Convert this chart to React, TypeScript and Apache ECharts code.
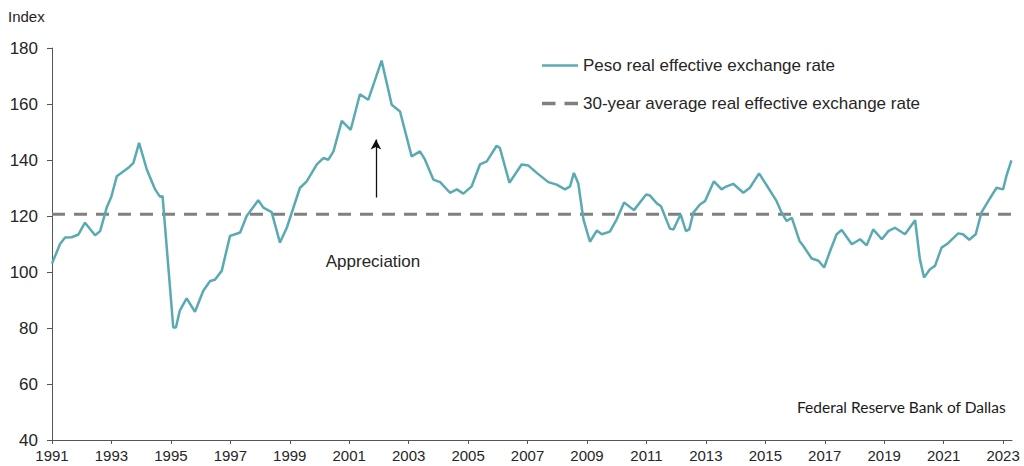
import React, { useEffect, useRef } from "react";
import * as echarts from "echarts";

const years: number[] = [
  1991.0, 1991.27, 1991.44, 1991.66, 1991.89, 1992.11, 1992.45, 1992.62, 1992.84, 1993.0,
  1993.18, 1993.57, 1993.74, 1993.93, 1994.19, 1994.47, 1994.63, 1994.72, 1995.08, 1995.17,
  1995.3, 1995.53, 1995.81, 1996.09, 1996.32, 1996.48, 1996.71, 1996.99, 1997.16, 1997.33,
  1997.55, 1997.94, 1998.11, 1998.39, 1998.67, 1998.9, 1999.34, 1999.57, 1999.91, 2000.13,
  2000.3, 2000.47, 2000.75, 2001.05, 2001.36, 2001.64, 2002.09, 2002.43, 2002.71, 2003.1,
  2003.38, 2003.55, 2003.83, 2004.06, 2004.39, 2004.62, 2004.84, 2005.12, 2005.4, 2005.63,
  2005.96, 2006.07, 2006.39, 2006.8, 2007.03, 2007.31, 2007.7, 2007.98, 2008.26, 2008.43,
  2008.56, 2008.71, 2008.88, 2009.1, 2009.33, 2009.5, 2009.77, 2010.0, 2010.25, 2010.58,
  2010.99, 2011.12, 2011.35, 2011.49, 2011.79, 2011.91, 2012.15, 2012.33, 2012.44, 2012.58,
  2012.8, 2012.97, 2013.27, 2013.53, 2013.64, 2013.92, 2014.26, 2014.48, 2014.79, 2015.05,
  2015.38, 2015.55, 2015.72, 2015.89, 2016.15, 2016.28, 2016.56, 2016.79, 2016.98, 2017.18,
  2017.4, 2017.57, 2017.91, 2018.19, 2018.41, 2018.63, 2018.92, 2019.14, 2019.36, 2019.7,
  2020.04, 2020.2, 2020.34, 2020.54, 2020.71, 2020.93, 2021.15, 2021.49, 2021.65, 2021.86,
  2022.08, 2022.27, 2022.5, 2022.78, 2023.0, 2023.11, 2023.28,
];

const pesoReer: number[] = [
  103, 110, 112.3, 112.4, 113.4, 117.6, 113.1, 114.6, 123, 127,
  134.2, 137.2, 139, 146.1, 136.6, 129.5, 126.9, 127.1, 80.2, 80.2,
  86.2, 90.6, 85.8, 93.3, 96.8, 97.2, 100.4, 112.9, 113.5, 114.1,
  120, 125.6, 123, 121.4, 110.5, 115.8, 130, 132.4, 138.4, 140.7,
  140.1, 143.1, 154, 150.8, 163.5, 161.5, 175.5, 159.7, 157.3, 141.3,
  143.1, 140.1, 133, 132.1, 128.3, 129.5, 128, 130.6, 138.4, 139.5,
  145.1, 144.3, 131.9, 138.4, 138, 135.4, 132.1, 131.2, 129.5, 130.6,
  135.4, 131.5, 118.8, 110.8, 114.8, 113.5, 114.4, 118.8, 124.8, 122.1,
  127.7, 127.3, 124.5, 123.5, 115.5, 115.2, 120.6, 114.6, 115.2, 121.2,
  124.1, 125.3, 132.4, 129.5, 130.3, 131.5, 128.3, 130.1, 135.2, 130.9,
  125.3, 121.2, 118.2, 119.4, 111.1, 109.3, 104.8, 104, 101.6, 107.5,
  113.5, 115, 109.9, 111.7, 109.5, 115.2, 111.7, 114.6, 115.8, 113.5,
  118.5, 104.6, 98, 101, 102.2, 108.7, 110.3, 113.8, 113.5, 111.5,
  113.5, 121.2, 125.3, 130.1, 129.5, 134.2, 139.9,
];

const averageYears: number[] = [1991, 2023.3];
const averageValues: number[] = [120.6, 120.6];

const xTickLabels: number[] = [
  1991, 1993, 1995, 1997, 1999, 2001, 2003, 2005, 2007, 2009, 2011, 2013, 2015, 2017, 2019, 2021, 2023,
];

const arrowYear = 2001.9;
const arrowFrom = 126.6;
const arrowTo = 147.3;

const seriesNames = [
  "Peso real effective exchange rate",
  "30-year average real effective exchange rate",
];

export default function App() {
  const ref = useRef<HTMLDivElement>(null);

  useEffect(() => {
    if (!ref.current) return;
    const chart = echarts.init(ref.current, null, { renderer: "svg" });
    const font = "'Liberation Sans', Arial, sans-serif";
    chart.setOption({
      animation: false,
      backgroundColor: "#ffffff",
      grid: { left: 52, right: 12, top: 48, bottom: 26, containLabel: false },
      legend: {
        orient: "vertical",
        left: 537,
        top: 52,
        itemWidth: 36,
        itemHeight: 14,
        itemGap: 21,
        data: [
          { name: seriesNames[0], icon: "path://M0,0h36v2.5h-36z", itemStyle: { color: "#5aaab2" } },
          {
            name: seriesNames[1],
            icon: "path://M0,0h12v3h-12z M20,0h12v3h-12z",
            itemStyle: { color: "#808080" },
          },
        ],
        textStyle: { fontFamily: font, fontSize: 17, color: "#262626" },
      },
      xAxis: {
        type: "value",
        min: 1991,
        max: 2023.3,
        axisLine: { show: true, onZero: false, lineStyle: { color: "#555", width: 1 } },
        axisTick: {
          show: true,
          length: 4,
          customValues: xTickLabels,
          lineStyle: { color: "#555" },
        },
        axisLabel: {
          customValues: xTickLabels,
          fontFamily: font,
          fontSize: 15,
          color: "#262626",
          margin: 8,
          formatter: (v: number) => String(v),
        },
        splitLine: { show: false },
      },
      yAxis: {
        type: "value",
        min: 40,
        max: 180,
        interval: 20,
        axisLine: { show: true, lineStyle: { color: "#555", width: 1 } },
        axisTick: { show: true, length: 5, lineStyle: { color: "#555" } },
        axisLabel: { fontFamily: font, fontSize: 17, color: "#262626", margin: 14 },
        splitLine: { show: false },
      },
      series: [
        {
          name: seriesNames[0],
          type: "line",
          data: years.map((y, i) => [y, pesoReer[i]]),
          symbol: "none",
          lineStyle: { color: "#5aaab2", width: 2.5 },
          itemStyle: { color: "#5aaab2" },
          z: 3,
          markLine: {
            silent: true,
            symbol: ["none", "arrow"],
            symbolSize: [8, 10],
            label: { show: false },
            lineStyle: { color: "#111", width: 1.3, type: "solid" },
            data: [[{ coord: [arrowYear, arrowFrom] }, { coord: [arrowYear, arrowTo] }]],
          },
        },
        {
          name: seriesNames[1],
          type: "line",
          data: averageYears.map((y, i) => [y, averageValues[i]]),
          symbol: "none",
          lineStyle: { color: "#808080", width: 3, type: [13, 9] },
          itemStyle: { color: "#808080" },
          z: 2,
        },
      ],
      graphic: [
        {
          type: "text",
          left: 8,
          top: 9,
          style: { text: "Index", fontFamily: font, fontSize: 15, fill: "#262626" },
        },
        {
          type: "text",
          x: 373,
          y: 261,
          style: {
            text: "Appreciation",
            fontFamily: font,
            fontSize: 17,
            fill: "#262626",
            textAlign: "center",
            textVerticalAlign: "middle",
          },
        },
        {
          type: "text",
          x: 797,
          y: 407,
          style: {
            text: "Federal Reserve Bank of Dallas",
            fontFamily: "Lato, 'Noto Sans', sans-serif",
            fontSize: 15.5,
            fill: "#1a1a1a",
            textVerticalAlign: "middle",
          },
        },
      ],
    });
    return () => chart.dispose();
  }, []);

  return (
    <div
      ref={ref}
      style={{ position: "fixed", left: 0, top: 0, width: 1024, height: 466, background: "#fff" }}
    />
  );
}
